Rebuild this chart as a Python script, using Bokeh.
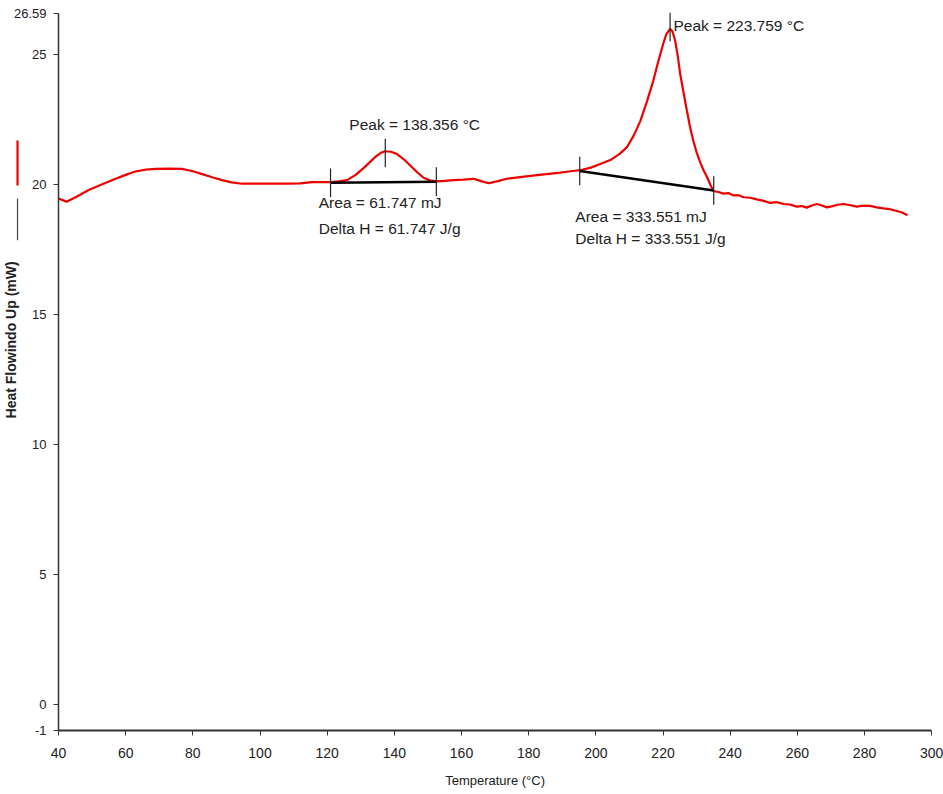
import math
from bokeh.plotting import figure
from bokeh.models import (FixedTicker, CustomJSTickFormatter, ColumnDataSource, Range1d)
from bokeh.core.properties import value
from bokeh.embed import file_html
from bokeh.resources import INLINE

# ---- data ----
temperature = [40.0, 42.4, 45.5, 49.0, 53.0, 57.0, 60.0, 62.9, 66.0, 68.9, 73.0, 76.8, 80.0, 82.8,
               86.0, 88.7, 91.5, 94.7, 100.0, 108.5, 112.0, 115.5, 121.0, 123.5, 125.9, 128.5,
               130.9, 132.8, 134.4, 136.0, 137.3, 139.0, 140.8, 142.8, 144.8, 146.8, 148.7, 150.5,
               152.5, 155.0, 157.6, 160.5, 163.6, 165.8, 168.1, 170.8, 173.5, 178.0, 182.5, 186.0,
               189.4, 192.5, 195.4, 198.5, 201.3, 204.3, 207.0, 209.3, 211.3, 213.2, 215.2, 217.1,
               218.6, 220.0, 221.0, 222.1, 222.8, 223.6, 224.4, 225.1, 226.1, 227.1, 228.0, 229.0,
               230.0, 231.1, 232.1, 233.1, 234.1, 235.0, 236.5, 238.0, 239.5, 241.0, 242.5, 244.0,
               246.0, 247.9, 250.0, 251.9, 253.8, 255.9, 257.8, 259.8, 261.3, 262.8, 264.3, 265.8,
               267.3, 268.8, 270.5, 272.0, 273.7, 275.5, 277.7, 279.7, 281.7, 283.6, 285.6, 287.6,
               289.6, 291.2, 292.8]
heat_flow = [19.47, 19.35, 19.55, 19.80, 20.02, 20.23, 20.38, 20.51, 20.58, 20.61, 20.62, 20.61, 20.52, 20.41,
             20.28, 20.18, 20.09, 20.04, 20.04, 20.04, 20.05, 20.10, 20.10, 20.13, 20.18, 20.38,
             20.65, 20.88, 21.08, 21.23, 21.29, 21.27, 21.18, 20.98, 20.73, 20.48, 20.27, 20.17,
             20.13, 20.15, 20.18, 20.20, 20.23, 20.14, 20.06, 20.14, 20.23, 20.30, 20.37, 20.42,
             20.47, 20.52, 20.56, 20.66, 20.80, 20.95, 21.18, 21.45, 21.90, 22.44, 23.20, 24.00,
             24.75, 25.40, 25.80, 26.00, 25.90, 25.55, 24.95, 24.27, 23.55, 22.86, 22.25, 21.70,
             21.25, 20.85, 20.55, 20.30, 20.00, 19.76, 19.72, 19.66, 19.68, 19.59, 19.60, 19.52,
             19.50, 19.44, 19.38, 19.30, 19.33, 19.26, 19.24, 19.16, 19.18, 19.12, 19.20, 19.26,
             19.20, 19.13, 19.18, 19.23, 19.26, 19.22, 19.16, 19.20, 19.19, 19.13, 19.09, 19.06,
             18.99, 18.93, 18.83]

# integration baselines (start/end temperature and heat flow)
base_x0 = [121.0, 195.2]
base_y0 = [20.08, 20.53]
base_x1 = [152.5, 235.1]
base_y1 = [20.12, 19.78]

# peak markers
peak_x = [137.3, 222.1]
peak_y = [21.22, 26.07]

x_ticks = [40, 60, 80, 100, 120, 140, 160, 180, 200, 220, 240, 260, 280, 300]
y_ticks = [-1, 0, 5, 10, 15, 20, 25, 26.59]

peak_texts = ["Peak = 138.356 \u00b0C", "Peak = 223.759 \u00b0C"]
area_texts = ["Area = 61.747 mJ", "Area = 333.551 mJ"]
delta_texts = ["Delta H = 61.747 J/g", "Delta H = 333.551 J/g"]

X_MIN, X_MAX = 40, 300
Y_MIN, Y_MAX = -1, 26.59

# ---- figure ----
# The frame fills the whole canvas; both axes sit at fixed data locations with bounds,
# so the axis title, its series key and all tick labels can be drawn around them.
PX_X = 873.2 / (X_MAX - X_MIN)      # pixels per degree
PX_Y = 717.0 / (Y_MAX - Y_MIN)      # pixels per mW
p = figure(width=943, height=794, output_backend="svg", toolbar_location=None,
           x_range=Range1d(X_MIN - 58 / PX_X, X_MAX + 11.8 / PX_X),
           y_range=Range1d(Y_MIN - 64 / PX_Y, Y_MAX + 13 / PX_Y),
           min_border=0)
p.outline_line_color = None
p.grid.visible = False
p.background_fill_color = "white"

FONT = "Liberation Sans"
TXT = "#222222"

p.xaxis.ticker = FixedTicker(ticks=x_ticks)
p.yaxis.ticker = FixedTicker(ticks=y_ticks)
p.yaxis.formatter = CustomJSTickFormatter(code="return String(tick);")
p.xaxis.formatter = CustomJSTickFormatter(code="return String(tick);")
p.yaxis.fixed_location = X_MIN
p.yaxis.bounds = (Y_MIN, Y_MAX)
p.xaxis.fixed_location = Y_MIN
p.xaxis.bounds = (X_MIN, X_MAX)
for ax in (p.xaxis[0], p.yaxis[0]):
    ax.major_tick_in = 0
    ax.major_tick_out = 5
    ax.minor_tick_line_color = None
    ax.axis_line_color = "#333333"
    ax.major_tick_line_color = "#333333"
    ax.major_label_text_color = TXT
    ax.major_label_text_font = FONT
p.xaxis.axis_line_width = 2
p.yaxis.axis_line_width = 1.5
p.xaxis.major_label_text_font_size = "14px"
p.yaxis.major_label_text_font_size = "13px"
p.xaxis.major_label_standoff = 12
p.yaxis.major_label_standoff = 7

# x-axis title
p.text(x=[(X_MIN + X_MAX) / 2], y=[Y_MIN - 50 / PX_Y], text=["Temperature (\u00b0C)"],
       text_align="center", text_baseline="middle", text_font=value(FONT),
       text_font_size="13px", text_color=TXT)

# main curve
p.line(temperature, heat_flow, line_color="#ee0000", line_width=2.2)

# baselines
p.segment(x0=base_x0, y0=base_y0, x1=base_x1, y1=base_y1, line_color="black", line_width=2.5)

# limit markers
half = 0.55
lim_x = base_x0 + base_x1
lim_y = base_y0 + base_y1
p.segment(x0=lim_x, y0=[v - half for v in lim_y], x1=lim_x, y1=[v + half for v in lim_y],
          line_color="#222222", line_width=1.2)
# peak markers
p.segment(x0=peak_x, y0=[v - half for v in peak_y], x1=peak_x, y1=[v + half for v in peak_y],
          line_color="#222222", line_width=1.2)

# annotation texts
src = ColumnDataSource(dict(
    x=[126.6, 223.1, 117.5, 193.9, 117.5, 193.9],
    y=[22.31, 26.11, 19.32, 18.76, 18.33, 17.95],
    t=peak_texts + area_texts + delta_texts,
))
p.text(x="x", y="y", text="t", source=src, text_font=value(FONT), text_font_size="15.5px",
       text_color=TXT, text_align="left", text_baseline="middle")

# y-axis title with series key (red: curve, black: baseline)
p.segment(x0=[27.8], y0=[19.97], x1=[27.8], y1=[21.70], line_color="#ee0000", line_width=2.2)
p.segment(x0=[27.8], y0=[17.86], x1=[27.8], y1=[19.47], line_color="#444444", line_width=1.2)
p.text(x=[26.0], y=[14.03], text=["Heat Flowindo Up (mW)"], angle=math.pi / 2,
       text_align="center", text_baseline="middle", text_font=value(FONT),
       text_font_size="14px", text_font_style="bold", text_color=TXT)

open("out.html", "w").write(file_html(p, INLINE))
